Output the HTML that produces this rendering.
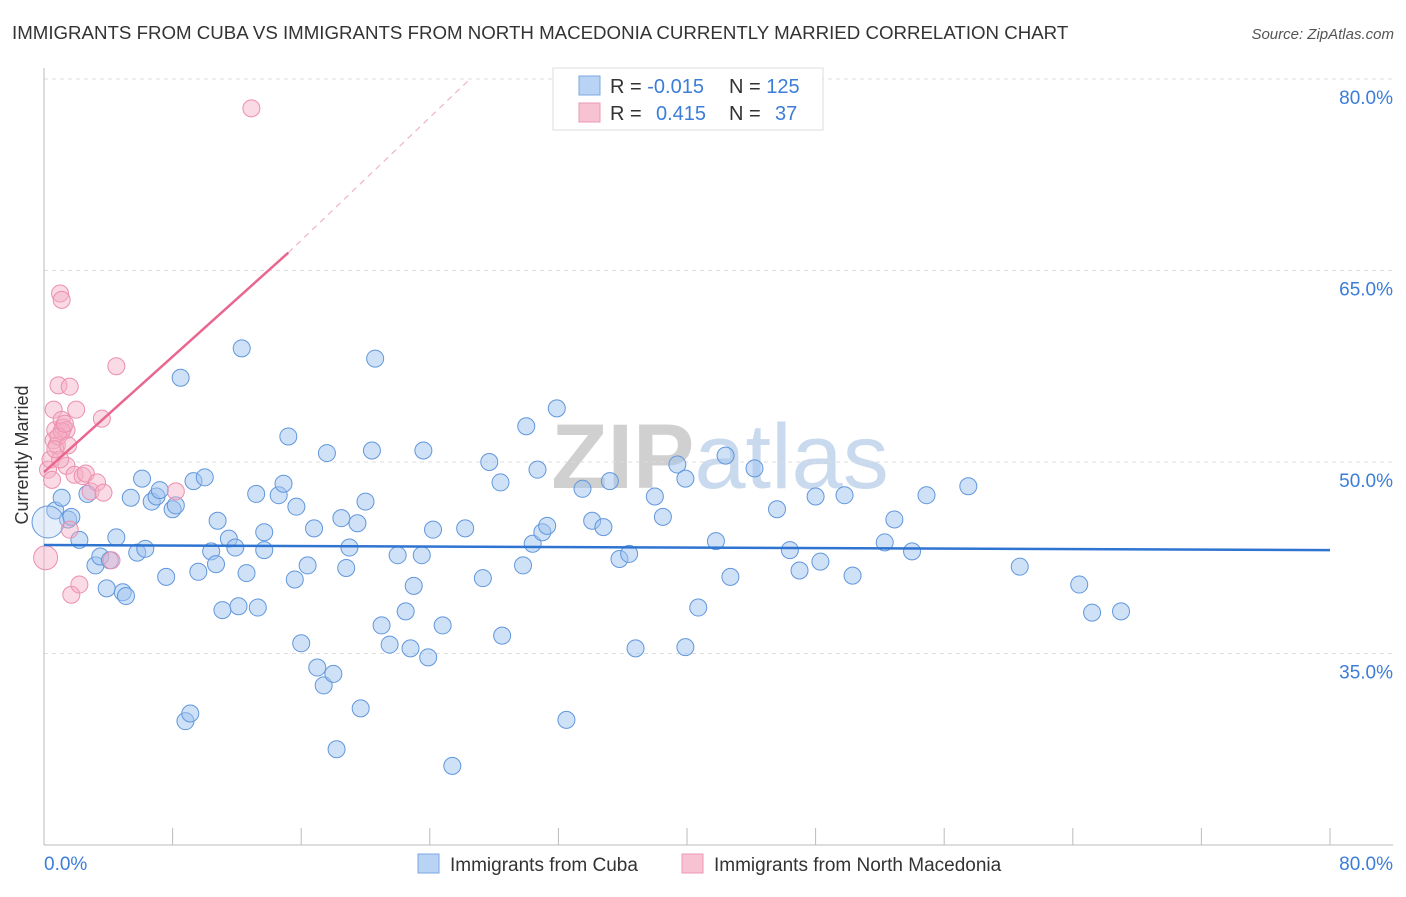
<!DOCTYPE html>
<html><head><meta charset="utf-8"><style>
body{margin:0;background:#fff;font-family:"Liberation Sans",sans-serif}
svg text{font-family:"Liberation Sans",sans-serif}
</style></head><body>
<svg id="c" width="1406" height="892">
<text x="12" y="39" font-size="18.7" fill="#333">IMMIGRANTS FROM CUBA VS IMMIGRANTS FROM NORTH MACEDONIA CURRENTLY MARRIED CORRELATION CHART</text>
<text x="1394" y="39" font-size="15" fill="#555" font-style="italic" text-anchor="end">Source: ZipAtlas.com</text>
<text x="720" y="488" font-size="92" fill="#d8d8d8" text-anchor="middle" font-family="Liberation Serif"><tspan font-weight="bold" fill="#d0d0d0">ZIP</tspan><tspan fill="#c9d9ee" font-family="Liberation Sans">atlas</tspan></text>
<g id="grid"></g><g id="axes"></g><g id="pts"></g><g id="lines"></g>
<text x="28" y="455" font-size="18" fill="#333" text-anchor="middle" transform="rotate(-90 28 455)">Currently Married</text>
<g>
<rect x="553" y="68" width="270" height="62" fill="#fff" stroke="#ddd"/>
<rect x="579" y="76" width="21" height="19" fill="#b9d3f5" stroke="#7aa7e3"/>
<rect x="579" y="103" width="21" height="19" fill="#f7c2d2" stroke="#ec98b2"/>
<text x="610" y="93" font-size="20" fill="#333">R = <tspan fill="#3b7dd8">-0.015</tspan><tspan x="729">N = </tspan><tspan fill="#3b7dd8">125</tspan></text>
<text x="610" y="120" font-size="20" fill="#333">R = <tspan x="656" fill="#3b7dd8">0.415</tspan><tspan x="729">N = </tspan><tspan x="775" fill="#3b7dd8">37</tspan></text>
</g>
<g>
<rect x="418" y="854" width="21" height="19" fill="#b9d3f5" stroke="#7aa7e3"/>
<text x="450" y="871" font-size="19" fill="#333">Immigrants from Cuba</text>
<rect x="682" y="854" width="21" height="19" fill="#f7c2d2" stroke="#ec98b2"/>
<text x="714" y="871" font-size="19" fill="#333">Immigrants from North Macedonia</text>
</g>
</svg>
<script>
const yTicks=[80,65,50,35];
const yTickLabels=["80.0%","65.0%","50.0%","35.0%"];
const xTicks=[0,8,16,24,32,40,48,56,64,72,80];
const xEndLabels=["0.0%","80.0%"];
const cubaX=[0.7,1.1,1.5,1.7,2.2,2.7,3.2,3.5,3.9,4.1,4.5,4.9,5.1,5.4,5.8,6.1,6.3,6.7,7.0,7.2,7.6,8.0,8.2,8.5,8.8,9.1,9.3,9.6,10.0,10.4,10.7,10.8,11.1,11.5,11.9,12.1,12.3,12.6,13.2,13.3,13.7,13.7,14.6,14.9,15.2,15.6,15.7,16.0,16.4,16.8,17.0,17.4,17.6,18.0,18.2,18.5,18.8,19.0,19.5,19.7,20.0,20.4,20.6,21.0,21.5,22.0,22.5,22.8,23.0,23.5,23.6,23.9,24.2,24.8,25.4,26.2,27.3,27.7,28.4,28.5,29.8,30.0,30.4,30.7,31.0,31.3,31.9,32.5,33.5,34.1,34.8,35.2,35.8,36.4,36.8,38.0,38.5,39.4,39.9,39.9,40.7,41.8,42.4,42.7,44.2,45.6,46.4,47.0,48.0,48.3,49.8,50.3,52.3,52.9,54.0,54.9,57.5,60.7,64.4,65.2,67.0,0.25];
const cubaY=[46.2,47.2,45.5,45.7,43.9,47.5,41.9,42.6,40.1,42.3,44.1,39.8,39.5,47.2,42.9,48.7,43.2,46.9,47.3,47.8,41.0,46.3,46.6,56.6,29.7,30.3,48.5,41.4,48.8,43.0,42.0,45.4,38.4,44.0,43.3,38.7,58.9,41.3,47.5,38.6,44.5,43.1,47.4,48.3,52.0,40.8,46.5,35.8,41.9,44.8,33.9,32.5,50.7,33.4,27.5,45.6,41.7,43.3,45.2,30.7,46.9,50.9,58.1,37.2,35.7,42.7,38.3,35.4,40.3,42.7,50.9,34.7,44.7,37.2,26.2,44.8,40.9,50.0,48.4,36.4,41.9,52.8,43.6,49.4,44.5,45.0,54.2,29.8,47.9,45.4,44.9,48.5,42.4,42.8,35.4,47.3,45.7,49.8,35.5,48.7,38.6,43.8,50.5,41.0,49.5,46.3,43.1,41.5,47.3,42.2,47.4,41.1,43.7,45.5,43.0,47.4,48.1,41.8,40.4,38.2,38.3,45.3];
const macX=[0.1,0.25,0.4,0.5,0.6,0.6,0.7,0.8,0.9,1.0,1.1,1.1,1.2,1.4,1.4,1.6,1.6,1.7,1.9,2.0,2.2,2.4,2.6,2.9,3.3,3.7,3.6,4.2,4.5,8.2,12.9,1.1,0.9,1.3,1.0,0.7,1.5];
const macY=[42.5,49.4,50.2,48.6,51.7,54.1,52.5,51.3,56.0,63.2,62.7,53.3,52.7,52.5,49.7,55.9,44.7,39.6,49.0,54.1,40.4,48.9,49.1,47.7,48.4,47.6,53.4,42.3,57.5,47.7,77.7,52.4,52.0,53.0,50.2,51.0,51.3];
const cubaTrend=[[0,43.5],[80,43.1]];
const macTrendSolid=[[0,49.2],[15.2,66.4]];
const macTrendDash=[[15.2,66.4],[26.5,80]];

const NS="http://www.w3.org/2000/svg";
const X=v=>44+v/80*1286;
const Y=v=>79+(80-v)/15*191.5;
function mk(tag,attrs,parent){const e=document.createElementNS(NS,tag);for(const k in attrs)e.setAttribute(k,attrs[k]);parent.appendChild(e);return e;}
const grid=document.getElementById('grid'),axes=document.getElementById('axes'),pts=document.getElementById('pts'),lines=document.getElementById('lines');
yTicks.forEach((t,i)=>{
 const l=mk('line',{x1:44,x2:1393,y1:Y(t),y2:Y(t),stroke:'#ddd','stroke-dasharray':'4 4'},grid);
 
 
 const tx=mk('text',{x:1393,y:Y(t)+25,'font-size':19,fill:'#3b7dd8','text-anchor':'end'},axes);
 tx.textContent=yTickLabels[i];
 
 
});
const ya=mk('line',{x1:44,x2:44,y1:68,y2:845,stroke:'#bbb'},axes);


const xa=mk('line',{x1:44,x2:1393,y1:845,y2:845,stroke:'#bbb'},axes);


xTicks.forEach(t=>{
 const l=mk('line',{x1:X(t),x2:X(t),y1:828,y2:845,stroke:'#bbb'},axes);
 
 
});
const xl0=mk('text',{x:44,y:870,'font-size':19,fill:'#3b7dd8'},axes);xl0.textContent=xEndLabels[0];


const xl1=mk('text',{x:1393,y:870,'font-size':19,fill:'#3b7dd8','text-anchor':'end'},axes);xl1.textContent=xEndLabels[1];


cubaX.forEach((v,i)=>{
 const big=i===cubaX.length-1;
 const c=mk('circle',{cx:X(v),cy:Y(cubaY[i]),r:big?16:8.5,fill:big?'rgba(180,208,245,0.35)':'rgba(160,195,240,0.5)',stroke:'#6197dc','stroke-width':1},pts);
 
 
});
macX.forEach((v,i)=>{
 const r=i===0?12:8.5;
 const c=mk('circle',{cx:X(v),cy:Y(macY[i]),r:r,fill:'rgba(245,172,196,0.45)',stroke:'#ec8fae','stroke-width':1},pts);
 
 
});
const t1=mk('line',{x1:X(cubaTrend[0][0]),y1:Y(cubaTrend[0][1]),x2:X(cubaTrend[1][0]),y2:Y(cubaTrend[1][1]),stroke:'#2f74d0','stroke-width':2.5},lines);


const t2=mk('line',{x1:X(macTrendSolid[0][0]),y1:Y(macTrendSolid[0][1]),x2:X(macTrendSolid[1][0]),y2:Y(macTrendSolid[1][1]),stroke:'#e9678f','stroke-width':2.5},lines);


const t3=mk('line',{x1:X(macTrendDash[0][0]),y1:Y(macTrendDash[0][1]),x2:X(macTrendDash[1][0]),y2:Y(macTrendDash[1][1]),stroke:'#f0b3c6','stroke-width':1.2,'stroke-dasharray':'6 5'},lines);


</script>
</body></html>
